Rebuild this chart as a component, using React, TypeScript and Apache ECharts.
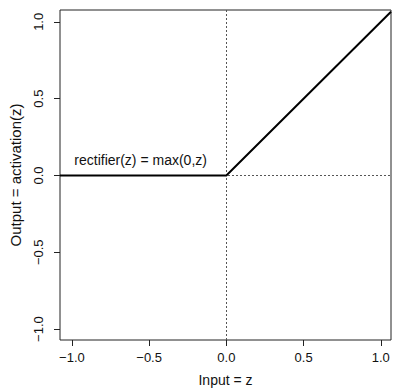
import React, { useEffect, useRef } from "react";
import * as echarts from "echarts";

const inputZ = [-1.077, 0, 1.066];
const outputA = [0, 0, 1.066];
const tickValues = [-1, -0.5, 0, 0.5, 1];
const annotation = { text: "rectifier(z) = max(0,z)", x: -0.555, y: 0.098 };
const xTitle = "Input = z";
const yTitle = "Output = activation(z)";

const fmt = (v: number) => v.toFixed(1).replace("-", "\u2212");
const FONT = "Liberation Sans, Arial, Helvetica, sans-serif";

export default function App() {
  const ref = useRef<HTMLDivElement>(null);
  useEffect(() => {
    if (!ref.current) return;
    const chart = echarts.init(ref.current, null, { renderer: "svg" });
    chart.setOption({
      animation: false,
      backgroundColor: "#fff",
      grid: {
        left: 58,
        top: 10,
        width: 333,
        height: 333,
        show: true,
        borderColor: "#222",
        borderWidth: 1,
        backgroundColor: "transparent",
      },
      xAxis: {
        type: "value",
        min: -1.077,
        max: 1.066,
        name: xTitle,
        nameLocation: "middle",
        nameGap: 33,
        nameTextStyle: { fontFamily: FONT, fontSize: 14, color: "#111" },
        axisLine: { show: false, onZero: false },
        splitLine: { show: false },
        axisTick: {
          show: true,
          length: 6,
          customValues: tickValues,
          lineStyle: { color: "#222" },
        },
        axisLabel: {
          customValues: tickValues,
          formatter: fmt,
          margin: 11,
          fontFamily: FONT,
          fontSize: 13,
          color: "#111",
        },
      },
      yAxis: {
        type: "value",
        min: -1.071,
        max: 1.077,
        name: yTitle,
        nameLocation: "middle",
        nameGap: 37,
        nameTextStyle: { fontFamily: FONT, fontSize: 15, color: "#111" },
        axisLine: { show: false, onZero: false },
        splitLine: { show: false },
        axisTick: {
          show: true,
          length: 6,
          customValues: tickValues,
          lineStyle: { color: "#222" },
        },
        axisLabel: {
          customValues: tickValues,
          formatter: fmt,
          rotate: 90,
          margin: 15,
          fontFamily: FONT,
          fontSize: 13,
          color: "#111",
        },
      },
      series: [
        {
          type: "line",
          data: inputZ.map((x, i) => [x, outputA[i]]),
          symbol: "none",
          lineStyle: { color: "#000", width: 2 },
          z: 3,
          markLine: {
            silent: true,
            symbol: "none",
            label: { show: false },
            lineStyle: { color: "#555", width: 1, type: [2, 2] },
            data: [{ xAxis: 0 }, { yAxis: 0 }],
            z: 1,
          },
          markPoint: {
            symbol: "circle",
            symbolSize: 0,
            data: [
              {
                coord: [annotation.x, annotation.y],
                label: {
                  show: true,
                  position: "inside",
                  formatter: annotation.text,
                  fontFamily: FONT,
                  fontSize: 14,
                  color: "#111",
                },
              },
            ],
          },
        },
      ],
    });
    return () => chart.dispose();
  }, []);
  return (
    <div
      ref={ref}
      style={{ position: "fixed", left: 0, top: 0, width: 394, height: 392 }}
    />
  );
}
